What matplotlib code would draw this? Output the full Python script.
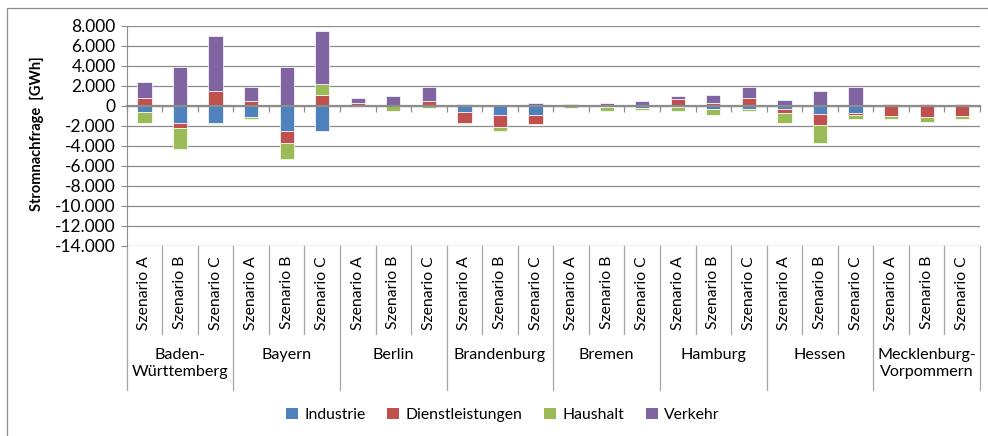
"""Stromnachfrage je Bundesland und Szenario, gestapelte Balken."""

import matplotlib
matplotlib.use("Agg")
import matplotlib.pyplot as plt
import matplotlib.transforms as mtransforms
from matplotlib.patches import Rectangle, Patch
import numpy as np

plt.rcParams["font.family"] = ["Lato", "DejaVu Sans"]

states = ["Baden-\nWürttemberg", "Bayern", "Berlin", "Brandenburg",
          "Bremen", "Hamburg", "Hessen", "Mecklenburg-\nVorpommern"]
scenarios = ["Szenario A", "Szenario B", "Szenario C"]

# GWh, order: BW A/B/C, BY A/B/C, BE, BB, HB, HH, HE, MV
industrie = [-600, -1700, -1700, -1100, -2500, -2500, 0, 0, 0,
             -630, -900, -900, 0, -100, -170, -130, -300, -330,
             -330, -770, -730, 0, 0, 0]
dienstleistungen = [830, -500, 1500, 470, -1170, 1100, 330, 0, 470,
                    -1070, -1170, -900, 30, 0, 0, 670, 330, 830,
                    -400, -1170, -170, -1000, -1130, -1000]
haushalt = [-1070, -2130, -100, -170, -1600, 1070, -50, -470, -230,
            -100, -400, 0, -200, -370, -200, -370, -600, -170,
            -930, -1730, -370, -270, -430, -270]
verkehr = [1600, 3930, 5500, 1460, 3930, 5360, 500, 1000, 1460,
           170, 130, 300, 170, 330, 470, 300, 800, 1100,
           600, 1530, 1930, 200, 170, 170]

series = [("Industrie", industrie, "#4F81BD"),
          ("Dienstleistungen", dienstleistungen, "#C0504D"),
          ("Haushalt", haushalt, "#9BBB59"),
          ("Verkehr", verkehr, "#8064A2")]

W, H = 988, 436
fig = plt.figure(figsize=(W / 100, H / 100), dpi=100)
x0, x1, ytop, ybot = 126.7, 980, 26, 246
ax = fig.add_axes([x0 / W, 1 - ybot / H, (x1 - x0) / W, (ybot - ytop) / H])

n = len(states) * len(scenarios)
x = np.arange(n)
pos_base = np.zeros(n)
neg_base = np.zeros(n)
for name, vals, color in series:
    v = np.array(vals, dtype=float)
    base = np.where(v >= 0, pos_base, neg_base)
    ax.bar(x, v, 0.4, bottom=base, color=color, edgecolor="white",
           linewidth=0.5, zorder=3)
    pos_base += np.where(v > 0, v, 0)
    neg_base += np.where(v < 0, v, 0)

ax.set_xlim(-0.5, n - 0.5)
ax.set_ylim(-14000, 8000)
yt = np.arange(-14000, 8001, 2000)
ax.set_yticks(yt)
ax.set_yticklabels([f"{t:,}".replace(",", ".") for t in yt], fontsize=12.5)
ax.yaxis.grid(True, color="#8c8c8c", linewidth=0.9, zorder=0)
ax.tick_params(axis="y", direction="out", length=4, color="#8c8c8c", pad=4)
ax.set_ylabel("Stromnachfrage  [GWh]", fontsize=10.5, fontweight="bold")
ax.yaxis.set_label_coords(-0.097, 0.51)

for s in ["top", "right"]:
    ax.spines[s].set_visible(False)
ax.spines["left"].set_color("#8c8c8c")
ax.spines["bottom"].set_position(("data", 0))
ax.spines["bottom"].set_color("#8c8c8c")
ax.spines["bottom"].set_linewidth(1.6)
ax.spines["bottom"].set_zorder(4)
ax.set_xticks(np.arange(-0.5, n, 1))
ax.set_xticklabels([])
ax.tick_params(axis="x", direction="out", length=4, color="#8c8c8c", width=0.9)

# two-level category labels below the plot
trans = mtransforms.blended_transform_factory(ax.transData, ax.transAxes)
px = 1 / (ybot - ytop)
for b in range(n + 1):
    end = -(390 - ybot) * px if b % 3 == 0 else -(334 - ybot) * px
    ax.plot([b - 0.5, b - 0.5], [0, end], color="#a6a6a6", lw=0.9,
            transform=trans, clip_on=False)
for i in range(n):
    ax.text(i, -(256 - ybot) * px, scenarios[i % 3], rotation=90, ha="center",
            va="top", fontsize=11.3, transform=trans)
for g, st in enumerate(states):
    ax.text(g * 3 + 1, -(348 - ybot) * px, st, ha="center", va="top",
            fontsize=11.6, linespacing=1.3, transform=trans)

handles = [Patch(facecolor=c, label=nm) for nm, _, c in series]
fig.legend(handles=handles, loc="center", bbox_to_anchor=(0.509, 0.048), ncol=4,
           frameon=False, fontsize=11.3, handlelength=0.75, handleheight=0.75,
           handletextpad=0.4, columnspacing=1.4)

fig.patches.append(Rectangle((7 / W, -0.1), 1.2, 1 - 8 / H + 0.1, transform=fig.transFigure,
                             fill=False, edgecolor="#8c8c8c", linewidth=0.9))

fig.savefig("out.png", dpi=100)
